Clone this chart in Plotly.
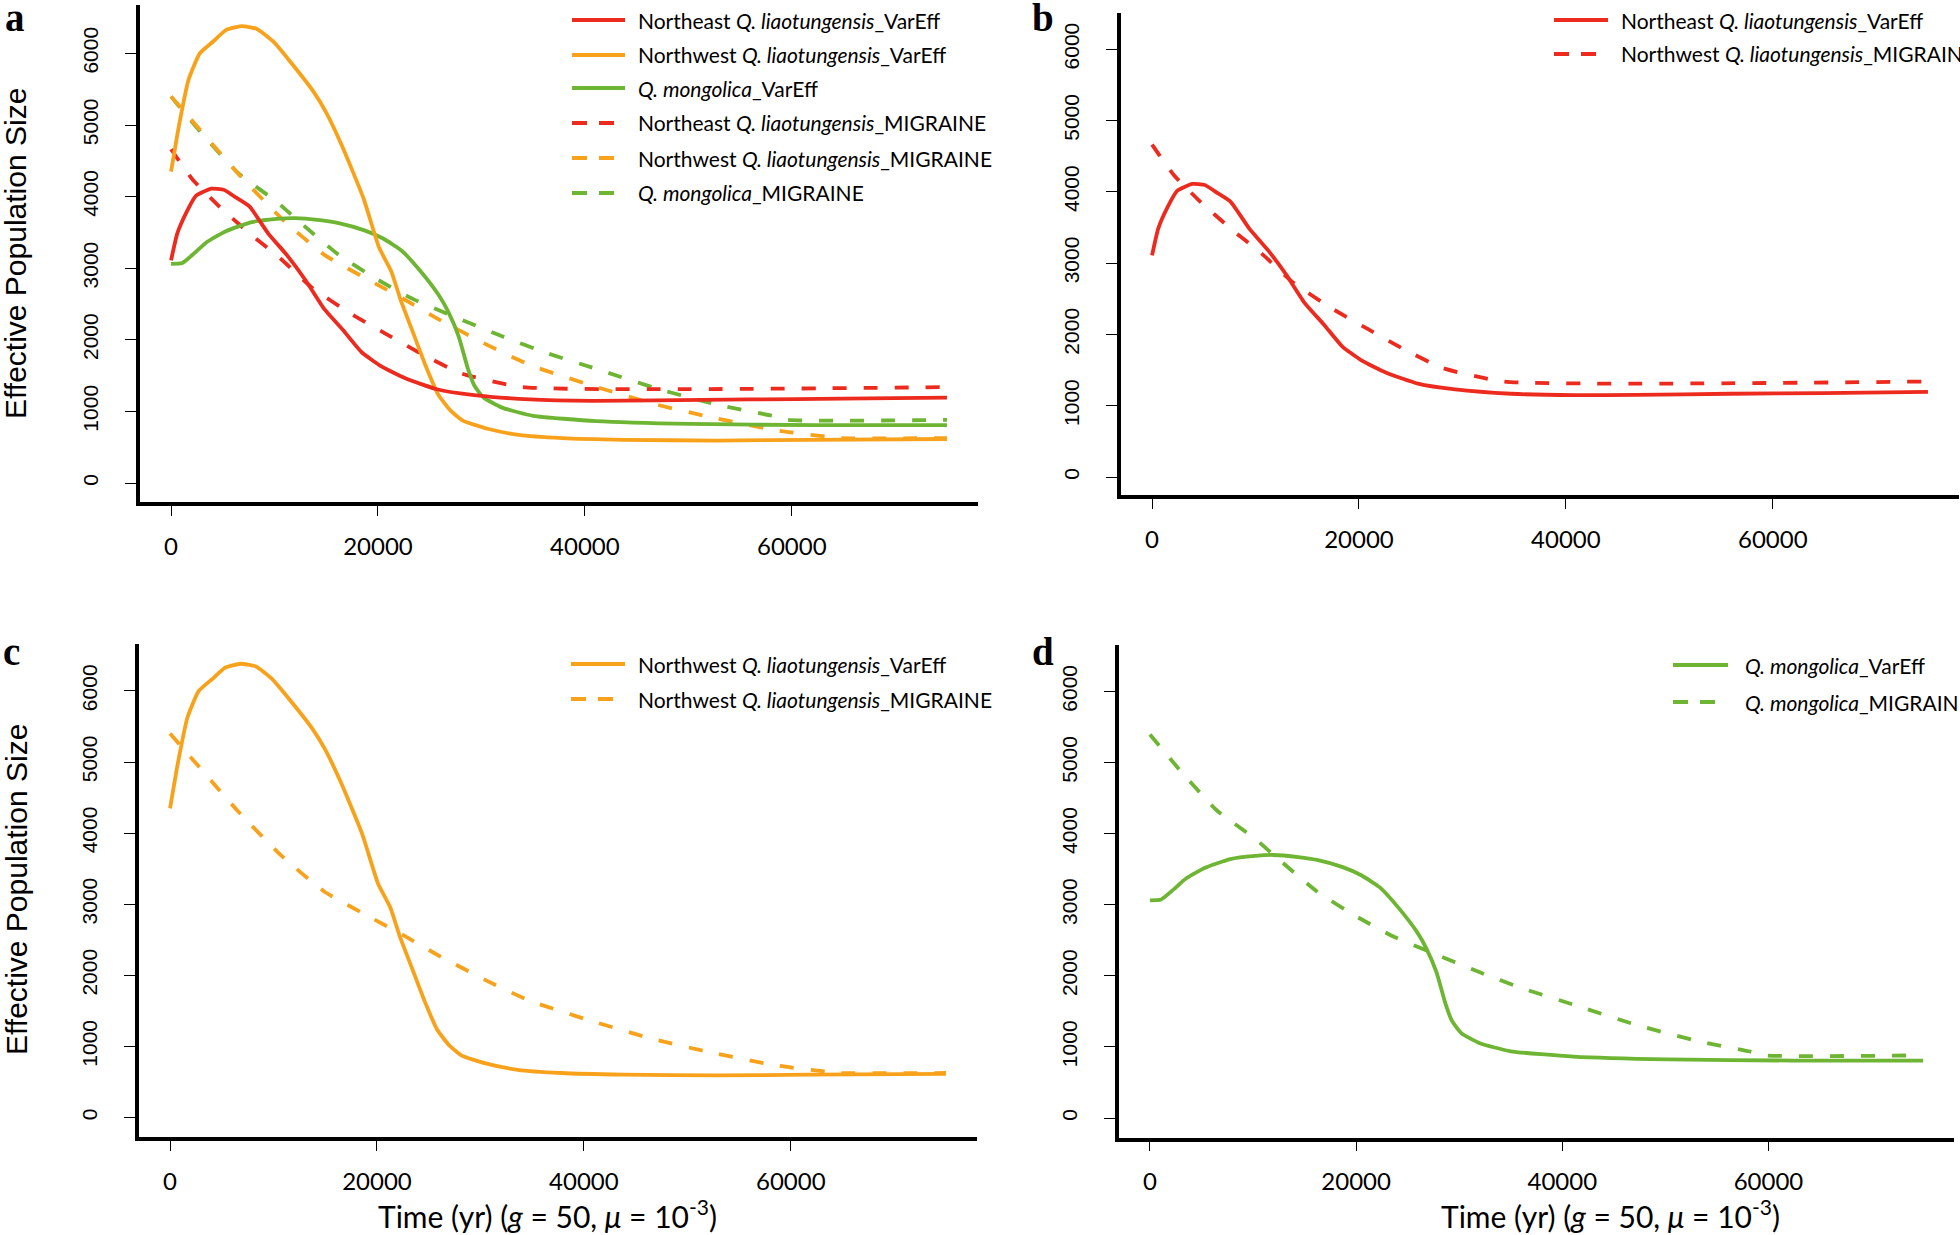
import plotly.graph_objects as go

W, H = 1960, 1235

# ---------------- data ----------------
# Northeast Q. liaotungensis, VarEff
ne_var_t = [0, 600, 1500, 2400, 3900, 5100, 6300, 7600, 9400, 11200, 13000, 14800,
            16600, 18400, 20200, 22700, 25700, 29300, 34700, 40800, 46800, 55900, 64900, 75000]
ne_var_n = [3108, 3484, 3784, 4010, 4110, 4095, 3985, 3860, 3484, 3183, 2832, 2431,
            2140, 1830, 1640, 1460, 1310, 1228, 1168, 1148, 1153, 1168, 1178, 1193]

# Northwest Q. liaotungensis, VarEff
nw_var_t = [0, 780, 1690, 2780, 4100, 5300, 6800, 8300, 9850, 11350, 13800, 15000, 16500,
            18600, 20100, 21300, 22200, 23400, 24600, 25800, 27000, 28200, 30600, 33600,
            37800, 43800, 52800, 61900, 75000]
nw_var_n = [4348, 5003, 5630, 6000, 6170, 6325, 6382, 6342, 6170, 5915, 5460, 5174, 4718,
            3977, 3293, 2952, 2553, 2097, 1641, 1242, 1014, 872, 758, 672,
            627, 604, 593, 604, 615]

# Q. mongolica, VarEff
mg_var_t = [0, 1090, 2300, 3500, 5300, 7800, 10200, 12000, 14400, 16200, 18700, 20500,
            22300, 24100, 25900, 26800, 27800, 28700, 29300, 30200, 32000, 35000, 41100,
            50200, 62300, 75000]
mg_var_n = [3062, 3073, 3216, 3369, 3517, 3643, 3688, 3700, 3671, 3631, 3529, 3415,
            3244, 2960, 2618, 2390, 2049, 1594, 1366, 1195, 1053, 939, 865,
            825, 808, 808]

# Northeast Q. liaotungensis, MIGRAINE
ne_mig_t = [0, 2100, 4500, 7600, 10600, 13600, 17200, 20800, 24500, 28100, 34000, 75000]
ne_mig_n = [4662, 4236, 3885, 3484, 3133, 2732, 2381, 2080, 1780, 1529, 1340, 1340]

# Northwest Q. liaotungensis, MIGRAINE
nw_mig_t = [0, 1700, 6500, 10700, 14900, 19700, 22700, 25700, 30600, 34800, 40800, 46800,
            52800, 58800, 63600, 64800, 75000]
nw_mig_n = [5400, 5117, 4319, 3692, 3180, 2790, 2553, 2300, 1926, 1641, 1356, 1100,
            900, 729, 644, 627, 627]

# Q. mongolica, MIGRAINE
mg_mig_t = [0, 2900, 6500, 10200, 12000, 16200, 19900, 23500, 27200, 32000, 36200, 41100,
            47200, 53200, 58100, 59600, 75000]
mg_mig_n = [5396, 4895, 4326, 3930, 3700, 3187, 2846, 2561, 2334, 2049, 1821, 1594,
            1309, 1081, 939, 882, 882]

x_ticks = [0, 20000, 40000, 60000]
y_ticks = [0, 1000, 2000, 3000, 4000, 5000, 6000]

RED, ORANGE, GREEN = "#EC2A1E", "#F8A21C", "#6DB532"
LW = 3.8
DASH = "14px,17px"

series = {
    "ne_var": (ne_var_t, ne_var_n, RED, "solid"),
    "nw_var": (nw_var_t, nw_var_n, ORANGE, "solid"),
    "mg_var": (mg_var_t, mg_var_n, GREEN, "solid"),
    "ne_mig": (ne_mig_t, ne_mig_n, RED, DASH),
    "nw_mig": (nw_mig_t, nw_mig_n, ORANGE, DASH),
    "mg_mig": (mg_mig_t, mg_mig_n, GREEN, DASH),
}

# panel -> (series drawn, x-domain px, y-domain px (top,bottom), y-range)
panels = {
    "a": (["mg_mig", "nw_mig", "ne_mig", "mg_var", "nw_var", "ne_var"], (140, 978), (5, 502), (-265, 6676)),
    "b": (["ne_mig", "ne_var"], (1121, 1959), (12.5, 495), (-252, 6515)),
    "c": (["nw_mig", "nw_var"], (139, 977), (644, 1137), (-273, 6660)),
    "d": (["mg_mig", "mg_var"], (1119, 1954), (645, 1137.5), (-274, 6654)),
}

fig = go.Figure()
layout = dict(width=W, height=H, margin=dict(l=0, r=0, t=0, b=0),
              paper_bgcolor="white", plot_bgcolor="white", showlegend=False)

for i, (name, (keys, xd, yd, yr)) in enumerate(panels.items()):
    idx = "" if i == 0 else str(i + 1)
    for k in keys:
        t, n, col, dash = series[k]
        fig.add_trace(go.Scatter(x=t, y=n, mode="lines", xaxis="x" + idx, yaxis="y" + idx,
                                 line=dict(color=col, width=LW, dash=dash, shape="spline", smoothing=0.5),
                                 hoverinfo="skip"))
    layout["xaxis" + idx] = dict(
        domain=[xd[0] / W, xd[1] / W], range=[-3000, 78000], anchor="y" + idx,
        showline=True, linecolor="black", linewidth=3.5, showgrid=False, zeroline=False,
        ticks="outside", ticklen=10, tickwidth=1.3, tickcolor="black",
        tickvals=x_ticks, tickformat="d", ticklabelstandoff=10,
        tickfont=dict(family="Lato, Open Sans, sans-serif", size=24, color="black"))
    layout["yaxis" + idx] = dict(
        domain=[1 - yd[1] / H, 1 - yd[0] / H], range=list(yr), anchor="x" + idx,
        showline=True, linecolor="black", linewidth=3.5, showgrid=False, zeroline=False,
        ticks="outside", ticklen=11, tickwidth=1.3, tickcolor="black",
        tickvals=y_ticks, tickformat="d", tickangle=-90, ticklabelstandoff=19,
        tickfont=dict(family="Liberation Sans, Arial, sans-serif", size=21, color="black"))

fig.update_layout(**layout)

shapes = []
annos = []


def px(x):
    return x / W


def py(y):
    return 1 - y / H


LEG_FONT = dict(family="Lato, Open Sans, sans-serif", size=21, color="black")
legends = {
    "a": (572, 625, 636, [20, 55, 88, 123, 158, 193],
          [(RED, False, "Northeast <i>Q. liaotungensis</i>_VarEff"),
           (ORANGE, False, "Northwest <i>Q. liaotungensis</i>_VarEff"),
           (GREEN, False, "<i>Q. mongolica</i>_VarEff"),
           (RED, True, "Northeast <i>Q. liaotungensis</i>_MIGRAINE"),
           (ORANGE, True, "Northwest <i>Q. liaotungensis</i>_MIGRAINE"),
           (GREEN, True, "<i>Q. mongolica</i>_MIGRAINE")]),
    "b": (1554, 1608, 1619, [20, 54],
          [(RED, False, "Northeast <i>Q. liaotungensis</i>_VarEff"),
           (RED, True, "Northwest <i>Q. liaotungensis</i>_MIGRAINE")]),
    "c": (571, 625, 636, [664, 699],
          [(ORANGE, False, "Northwest <i>Q. liaotungensis</i>_VarEff"),
           (ORANGE, True, "Northwest <i>Q. liaotungensis</i>_MIGRAINE")]),
    "d": (1673, 1728, 1743, [665, 702],
          [(GREEN, False, "<i>Q. mongolica</i>_VarEff"),
           (GREEN, True, "<i>Q. mongolica</i>_MIGRAINE")]),
}
for key, (x0, x1, xt, rows, items) in legends.items():
    for yrow, (col, dashed, txt) in zip(rows, items):
        if dashed:
            shapes.append(dict(type="line", xref="paper", yref="paper", x0=px(x0), x1=px(x0 + 42),
                               y0=py(yrow), y1=py(yrow), line=dict(color=col, width=LW, dash="15px,12px")))
        else:
            shapes.append(dict(type="line", xref="paper", yref="paper", x0=px(x0), x1=px(x1),
                               y0=py(yrow), y1=py(yrow), line=dict(color=col, width=LW)))
        annos.append(dict(text=txt, xref="paper", yref="paper", x=px(xt), y=py(yrow),
                          xanchor="left", yanchor="middle", showarrow=False, font=LEG_FONT))

# panel letters
for letter, (lx, ly) in {"a": (3, 18), "b": (1030, 18), "c": (1, 651), "d": (1030, 651)}.items():
    annos.append(dict(text="<b>%s</b>" % letter, xref="paper", yref="paper", x=px(lx), y=py(ly),
                      xanchor="left", yanchor="middle", showarrow=False,
                      font=dict(family="Liberation Serif, Times New Roman, serif", size=39, color="black")))

# y titles
for ycen in (254, 890):
    annos.append(dict(text="Effective Population Size", xref="paper", yref="paper", x=px(16), y=py(ycen),
                      xanchor="center", yanchor="middle", textangle=-90, showarrow=False,
                      font=dict(family="Liberation Sans, Arial, sans-serif", size=30, color="black")))

# x titles
for xcen in (547, 1610):
    annos.append(dict(text="Time (yr) (<i>g</i> = 50, <i>\u03bc</i> = 10<sup>-3</sup>)",
                      xref="paper", yref="paper", x=px(xcen), y=py(1214),
                      xanchor="center", yanchor="middle", showarrow=False,
                      font=dict(family="Lato, Open Sans, sans-serif", size=30, color="black")))

fig.update_layout(shapes=shapes, annotations=annos)
fig.write_html("out.html", config={"displayModeBar": False},
               post_script="document.body.style.margin='0px';document.body.style.overflow='hidden';")
